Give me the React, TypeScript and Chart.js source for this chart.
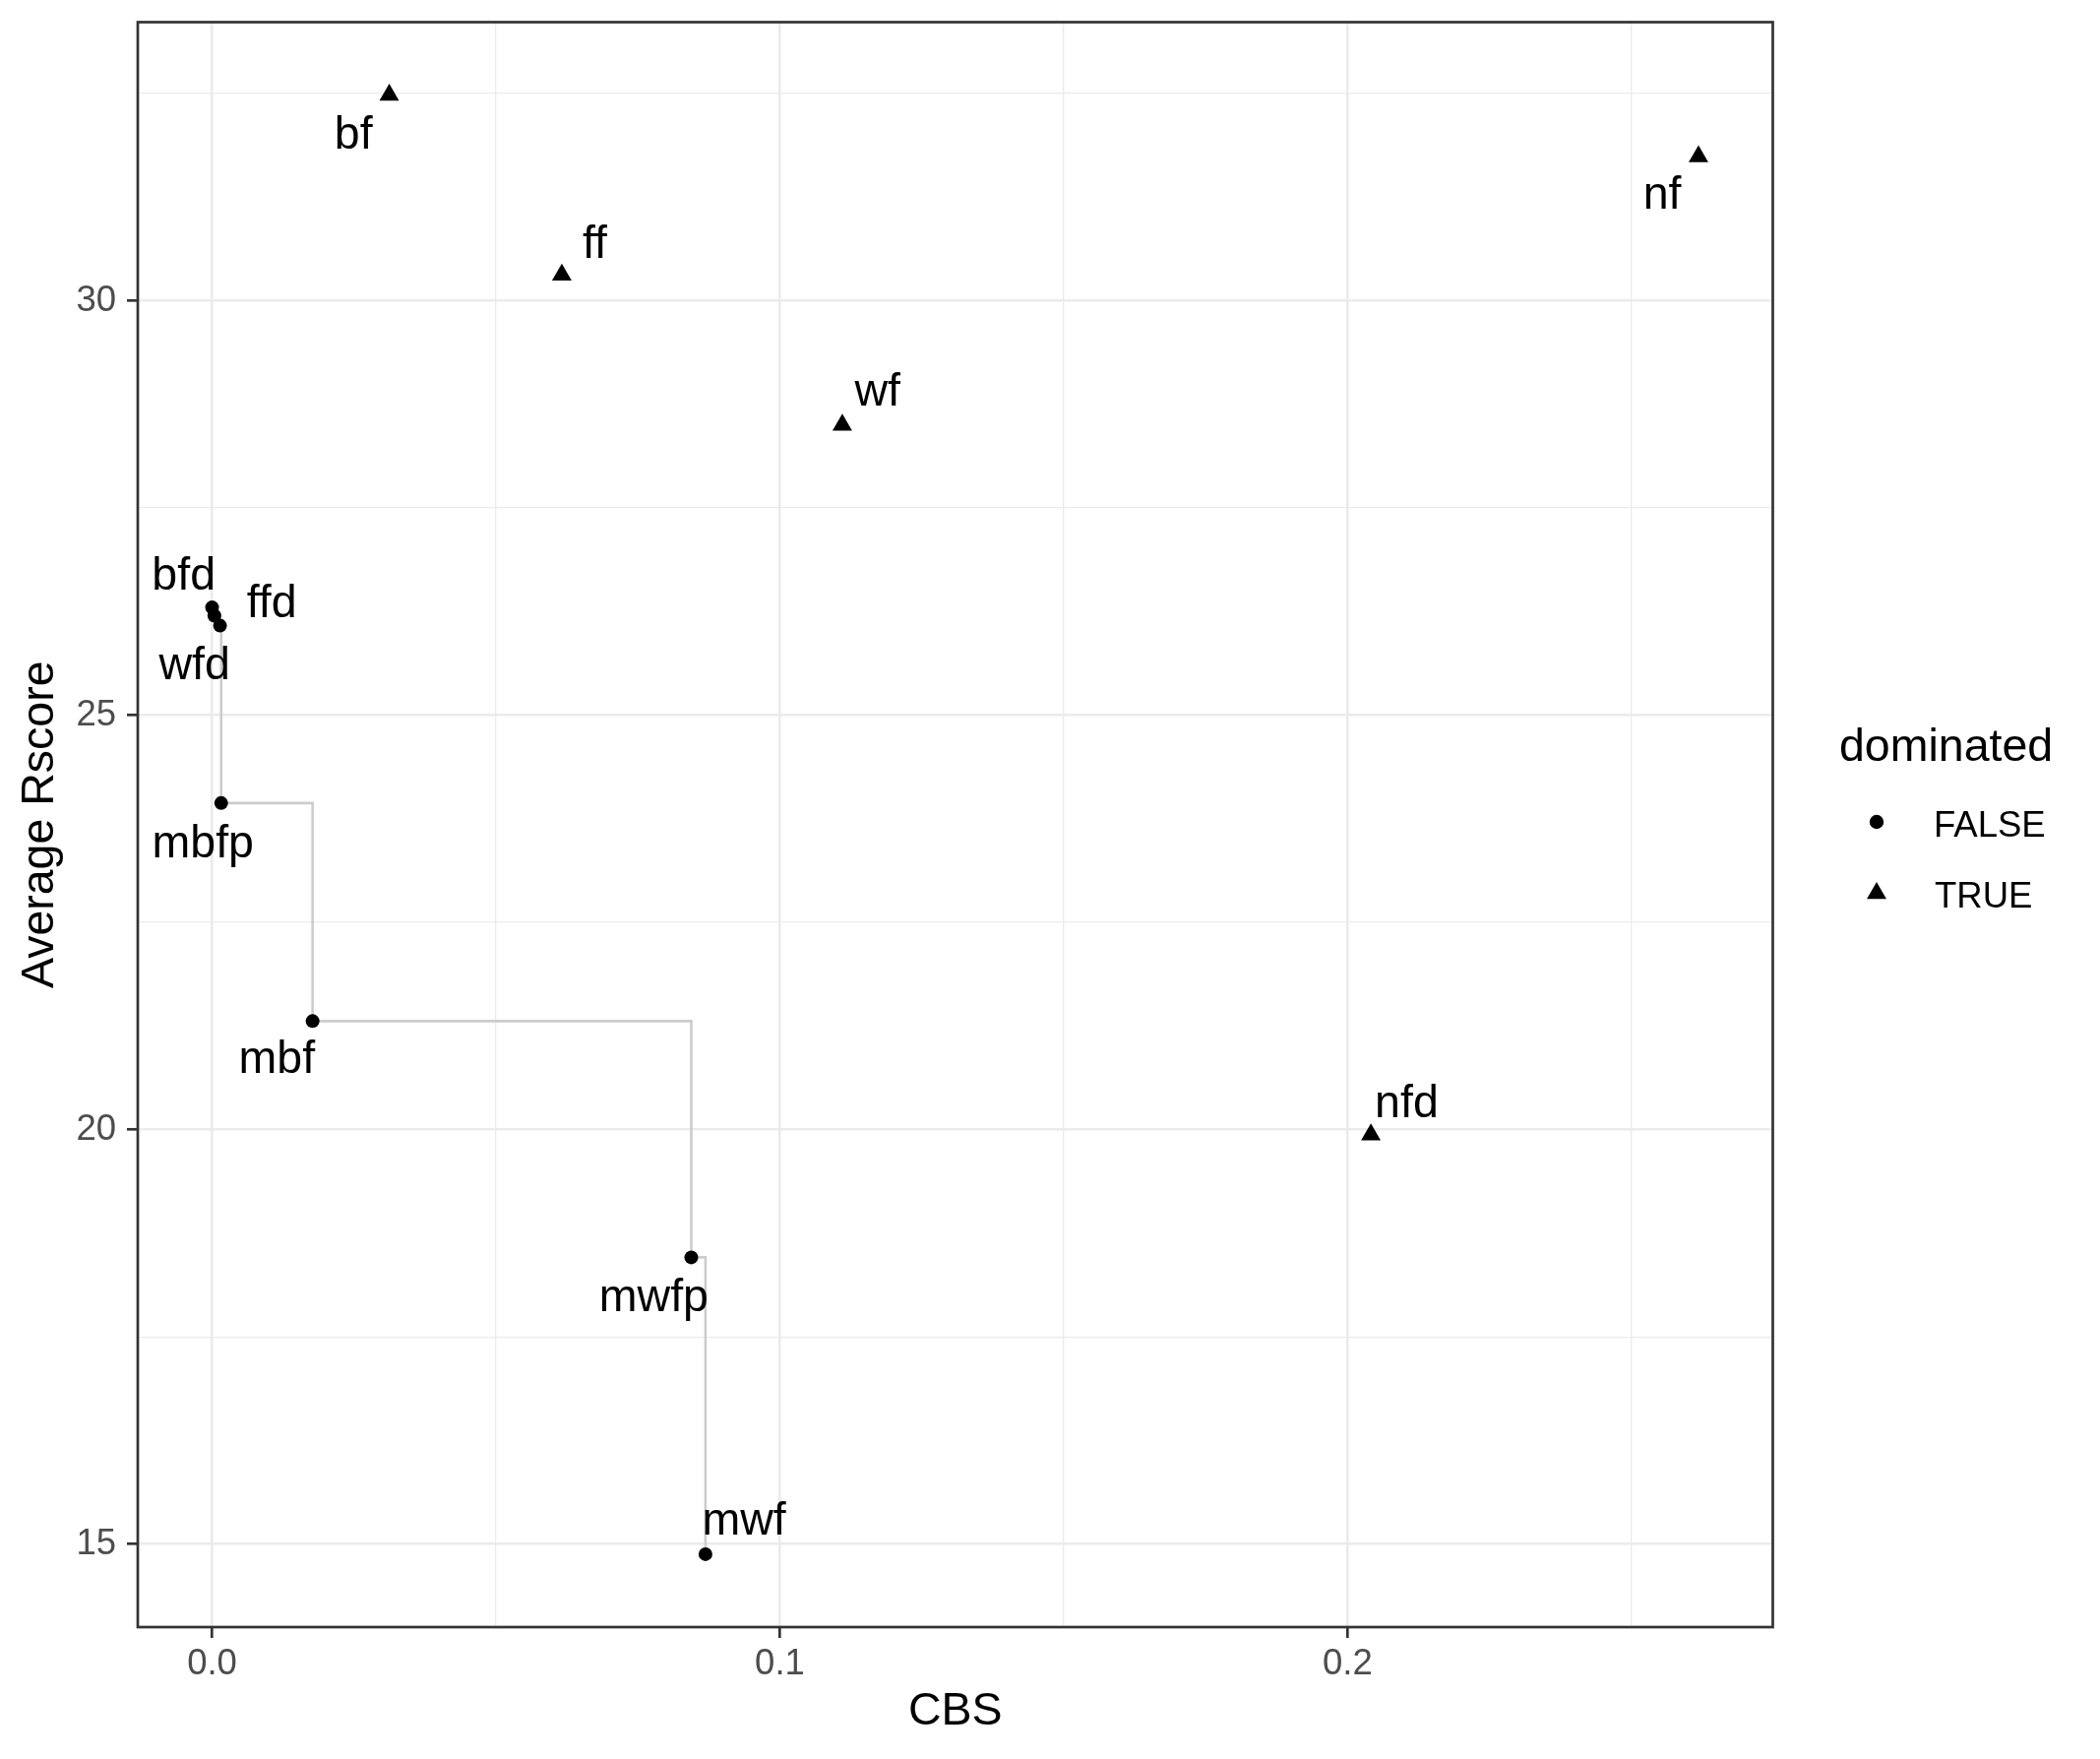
import React, { useEffect, useRef } from 'react';
import { Chart, registerables } from 'chart.js';

Chart.register(...registerables);

// ---- data ----
const pointNames = ['bf', 'ff', 'wf', 'nf', 'nfd', 'bfd', 'wfd', 'ffd', 'mbfp', 'mbf', 'mwfp', 'mwf'];
const cbsValues = [0.0312, 0.0616, 0.111, 0.2618, 0.2041, 0.0, 0.0004, 0.0014, 0.0016, 0.0177, 0.0844, 0.0869];
const rscoreValues = [32.48, 30.31, 28.5, 31.74, 19.94, 26.3, 26.2, 26.08, 23.94, 21.31, 18.46, 14.88];
const dominatedFlags = [true, true, true, true, true, false, false, false, false, false, false, false];

// repelled label anchors (data units: text centre x, text baseline y)
const labelCbs = [0.0249, 0.0674, 0.1172, 0.2554, 0.2104, -0.005, -0.0031, 0.0105, -0.0016, 0.0114, 0.0778, 0.0937];
const labelRscore = [31.84, 30.52, 28.73, 31.11, 20.15, 26.52, 25.43, 26.18, 23.29, 20.68, 17.81, 15.12];

const xMajorTicks = [0, 0.1, 0.2];
const xTickLabels = ['0.0', '0.1', '0.2'];
const xMinorTicks = [0.05, 0.15, 0.25];
const yMajorTicks = [15, 20, 25, 30];
const yTickLabels = ['15', '20', '25', '30'];
const yMinorTicks = [17.5, 22.5, 27.5, 32.5];

const xTitle = 'CBS';
const yTitle = 'Average Rscore';
const legendTitle = 'dominated';
const legendLabels = ['FALSE', 'TRUE'];

// ---- styling ----
const FONT = '"Liberation Sans", Arial, Helvetica, sans-serif';
const W = 2134;
const H = 1787;
const GRID = '#EBEBEB';
const DARK = '#333333';
const BIG = 46.5;
const SMALL = 36.5;

function expandRange(vals: number[]): [number, number] {
  const mn = Math.min(...vals);
  const mx = Math.max(...vals);
  const pad = (mx - mn) * 0.05;
  return [mn - pad, mx + pad];
}

function findIdx(arr: number[], v: number) {
  return arr.findIndex((a) => Math.abs(a - v) < 1e-9);
}

function triangle(ctx: CanvasRenderingContext2D, x: number, y: number, r: number) {
  const s = Math.sin((2 * Math.PI) / 3) * r;
  ctx.beginPath();
  ctx.moveTo(x, y - r);
  ctx.lineTo(x + s, y + r / 2);
  ctx.lineTo(x - s, y + r / 2);
  ctx.closePath();
  ctx.fill();
}

export default function App() {
  const ref = useRef<HTMLCanvasElement | null>(null);

  useEffect(() => {
    const canvas = ref.current;
    if (!canvas) return;

    const xRange = expandRange(cbsValues);
    const yRange = expandRange(rscoreValues);

    const falsePts: { x: number; y: number }[] = [];
    const truePts: { x: number; y: number }[] = [];
    cbsValues.forEach((x, i) => {
      const p = { x, y: rscoreValues[i] };
      if (dominatedFlags[i]) truePts.push(p);
      else falsePts.push(p);
    });
    const frontPts = [...falsePts].sort((a, b) => a.x - b.x);

    const xAll = [...xMajorTicks, ...xMinorTicks].sort((a, b) => a - b);
    const yAll = [...yMajorTicks, ...yMinorTicks].sort((a, b) => a - b);

    const overlay = {
      id: 'overlay',
      afterDatasetsDraw(chart: any) {
        const { ctx, chartArea, scales } = chart;
        ctx.save();
        // panel border
        ctx.strokeStyle = DARK;
        ctx.lineWidth = 2.7;
        ctx.strokeRect(chartArea.left, chartArea.top, chartArea.right - chartArea.left, chartArea.bottom - chartArea.top);
        // text labels
        ctx.fillStyle = '#000000';
        ctx.font = `${BIG}px ${FONT}`;
        ctx.textAlign = 'center';
        ctx.textBaseline = 'alphabetic';
        pointNames.forEach((t, i) => {
          ctx.fillText(t, scales.x.getPixelForValue(labelCbs[i]), scales.y.getPixelForValue(labelRscore[i]));
        });
        ctx.restore();
      },
      afterDraw(chart: any) {
        const { ctx } = chart;
        ctx.save();
        ctx.fillStyle = '#000000';
        ctx.textAlign = 'left';
        ctx.textBaseline = 'alphabetic';
        ctx.font = `${BIG}px ${FONT}`;
        ctx.fillText(legendTitle, 1869, 773);
        ctx.font = `${SMALL}px ${FONT}`;
        ctx.fillText(legendLabels[0], 1965, 850);
        ctx.fillText(legendLabels[1], 1966, 922);
        ctx.beginPath();
        ctx.arc(1907, 835, 7.2, 0, Math.PI * 2);
        ctx.fill();
        triangle(ctx, 1907, 907.5, 11.5);
        ctx.restore();
      },
    };

    const gridOpts = (majors: number[]) => ({
      color: GRID,
      lineWidth: (c: any) => (c.tick && findIdx(majors, c.tick.value) >= 0 ? 2.6 : 1.3),
      drawTicks: true,
      tickLength: 11,
      tickWidth: 2.7,
      tickColor: (c: any) => (c.tick && findIdx(majors, c.tick.value) >= 0 ? DARK : 'rgba(0,0,0,0)'),
      drawOnChartArea: true,
    });

    const chart = new Chart(canvas, {
      type: 'scatter',
      data: {
        datasets: [
          {
            label: legendLabels[0],
            data: falsePts,
            pointStyle: 'circle',
            pointRadius: 7,
            backgroundColor: '#000000',
            borderColor: '#000000',
            borderWidth: 0,
            order: 1,
          },
          {
            label: legendLabels[1],
            data: truePts,
            pointStyle: 'triangle',
            pointRadius: 11.5,
            backgroundColor: '#000000',
            borderColor: '#000000',
            borderWidth: 0,
            order: 1,
          },
          {
            type: 'line',
            label: 'front',
            data: frontPts,
            showLine: true,
            stepped: 'before',
            borderColor: '#CCCCCC',
            borderWidth: 2.6,
            pointRadius: 0,
            fill: false,
            tension: 0,
            order: 2,
          } as any,
        ],
      },
      options: {
        responsive: false,
        animation: false,
        devicePixelRatio: 1,
        events: [],
        layout: { padding: { left: 0, top: 22.5, right: 332.5, bottom: 0 } },
        plugins: { legend: { display: false }, tooltip: { enabled: false } },
        scales: {
          x: {
            type: 'linear',
            position: 'bottom',
            min: xRange[0],
            max: xRange[1],
            afterBuildTicks: (s: any) => {
              s.ticks = xAll.map((v) => ({ value: v }));
            },
            afterFit: (s: any) => {
              s.height = 134;
              s.paddingLeft = 0;
              s.paddingRight = 0;
            },
            ticks: {
              autoSkip: false,
              maxRotation: 0,
              minRotation: 0,
              padding: 5.5,
              color: '#4D4D4D',
              font: { family: FONT, size: SMALL },
              callback: (v: any) => {
                const i = findIdx(xMajorTicks, Number(v));
                return i >= 0 ? xTickLabels[i] : '';
              },
            },
            grid: gridOpts(xMajorTicks),
            border: { display: false },
            title: {
              display: true,
              text: xTitle,
              color: '#000000',
              font: { family: FONT, size: BIG },
              padding: { top: 0, bottom: 20 },
            },
          },
          y: {
            type: 'linear',
            position: 'left',
            min: yRange[0],
            max: yRange[1],
            afterBuildTicks: (s: any) => {
              s.ticks = yAll.map((v) => ({ value: v }));
            },
            afterFit: (s: any) => {
              s.width = 140;
              s.paddingTop = 0;
              s.paddingBottom = 0;
            },
            ticks: {
              autoSkip: false,
              padding: 11,
              color: '#4D4D4D',
              font: { family: FONT, size: SMALL },
              callback: (v: any) => {
                const i = findIdx(yMajorTicks, Number(v));
                return i >= 0 ? yTickLabels[i] : '';
              },
            },
            grid: gridOpts(yMajorTicks),
            border: { display: false },
            title: {
              display: true,
              text: yTitle,
              color: '#000000',
              font: { family: FONT, size: BIG },
              padding: { top: 13, bottom: 0 },
            },
          },
        },
      } as any,
      plugins: [overlay],
    });

    return () => chart.destroy();
  }, []);

  return (
    <div style={{ position: 'absolute', left: 0, top: 0, width: W, height: H, background: '#ffffff' }}>
      <canvas ref={ref} width={W} height={H} style={{ display: 'block', width: W, height: H }} />
    </div>
  );
}
